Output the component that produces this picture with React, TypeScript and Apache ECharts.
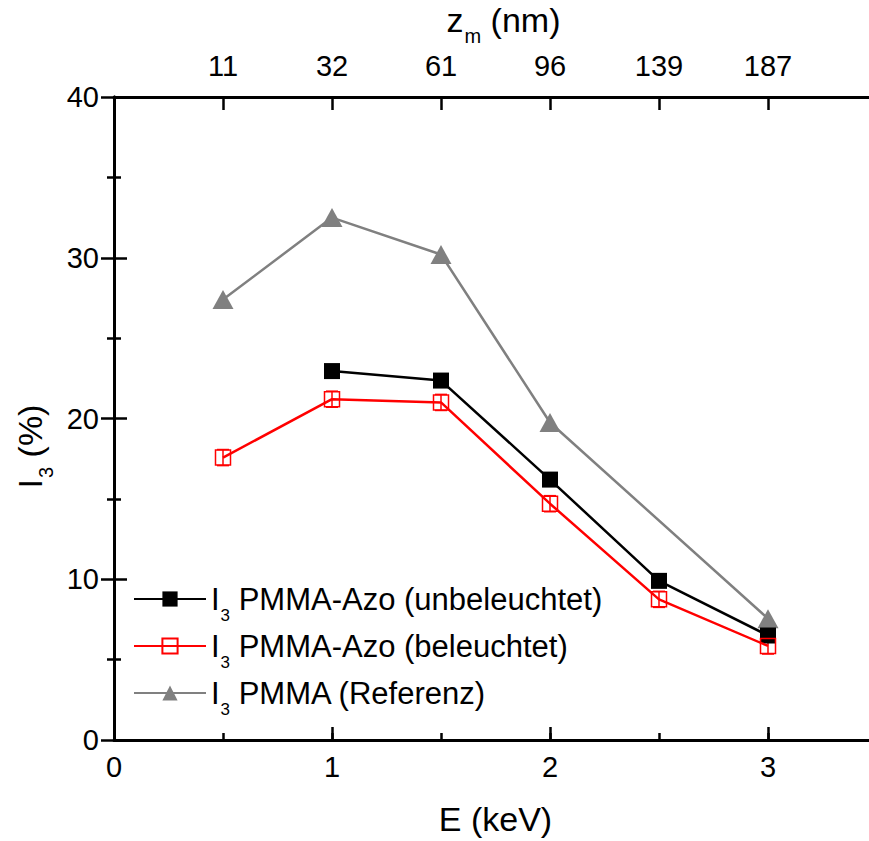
import React, { useEffect, useRef } from "react";
import * as echarts from "echarts";

const energy = [0.5, 1, 1.5, 2, 2.5, 3];
const depthLabels = ["11", "32", "61", "96", "139", "187"];
const azoDark: (number | null)[] = [null, 22.95, 22.36, 16.2, 9.9, 6.5];
const azoLit: (number | null)[] = [17.57, 21.2, 21.0, 14.7, 8.75, 5.85];
const pmmaRef: (number | null)[] = [27.4, 32.5, 30.2, 19.75, null, 7.55];
const azoLitErr = [0.5, 0.5, 0.5, 0.5, 0.5, 0.5];

const FONT = "Liberation Sans, Arial, sans-serif";

function pairs(vals: (number | null)[]) {
  const out: number[][] = [];
  vals.forEach((v, i) => {
    if (v !== null) out.push([energy[i], v]);
  });
  return out;
}

function errPairs(vals: (number | null)[], errs: number[]) {
  const out: number[][] = [];
  vals.forEach((v, i) => {
    if (v !== null && errs[i] > 0) out.push([energy[i], v, errs[i]]);
  });
  return out;
}

function errorSeries(data: number[][], color: string) {
  return {
    type: "custom",
    xAxisIndex: 0,
    yAxisIndex: 0,
    silent: true,
    z: 1,
    data,
    encode: { x: 0, y: 1 },
    renderItem: (params: any, api: any) => {
      const x = api.value(0);
      const y = api.value(1);
      const e = api.value(2);
      const hi = api.coord([x, y + e]);
      const lo = api.coord([x, y - e]);
      const cap = 6;
      const style = { stroke: color, lineWidth: 1.5 };
      return {
        type: "group",
        children: [
          { type: "line", shape: { x1: hi[0], y1: hi[1], x2: lo[0], y2: lo[1] }, style },
          { type: "line", shape: { x1: hi[0] - cap, y1: hi[1], x2: hi[0] + cap, y2: hi[1] }, style },
          { type: "line", shape: { x1: lo[0] - cap, y1: lo[1], x2: lo[0] + cap, y2: lo[1] }, style },
        ],
      };
    },
  };
}

const subLegend = {
  s: { fontSize: 17, lineHeight: 17, fontFamily: FONT, color: "#000", padding: [33, 0, 0, 1] },
};
const subTitle = {
  s: { fontSize: 20, lineHeight: 20, fontFamily: FONT, color: "#000", padding: [32, 0, 0, 1] },
};

export default function App() {
  const ref = useRef<HTMLDivElement>(null);
  useEffect(() => {
    if (!ref.current) return;
    const chart = echarts.init(ref.current, null, { renderer: "svg" });
    const axisLine = { show: true, lineStyle: { color: "#000", width: 3 } };
    const labelStyle = { color: "#000", fontSize: 29, fontFamily: FONT };
    const titleStyle = { color: "#000", fontSize: 34, fontFamily: FONT };
    const tickStyle = { color: "#000", width: 2.5 };
    const option: any = {
      animation: false,
      backgroundColor: "#fff",
      grid: {
        left: 114,
        top: 97,
        right: 3,
        bottom: 101,
        containLabel: false,
        outerBoundsMode: "none",
      },
      legend: {
        orient: "vertical",
        left: 128,
        top: 569,
        padding: 5,
        itemWidth: 72,
        itemHeight: 19,
        itemGap: -3,
        data: ["azoDark", "azoLit", "pmmaRef"],
        formatter: (name: string) => {
          if (name === "azoDark") return "I{s|3} PMMA-Azo (unbeleuchtet)";
          if (name === "azoLit") return "I{s|3} PMMA-Azo (beleuchtet)";
          return "I{s|3} PMMA (Referenz)";
        },
        textStyle: { color: "#000", fontSize: 31, fontFamily: FONT, lineHeight: 32, rich: subLegend },
      },
      xAxis: [
        {
          type: "value",
          position: "bottom",
          min: 0,
          max: 3.5,
          interval: 0.5,
          axisLine,
          axisTick: { show: true, inside: true, length: 7, lineStyle: tickStyle },
          splitLine: { show: false },
          axisLabel: {
            ...labelStyle,
            margin: 12,
            formatter: (v: number) => (v % 1 === 0 ? String(v) : ""),
          },
          name: "E (keV)",
          nameLocation: "middle",
          nameGap: 62,
          nameTextStyle: { ...titleStyle },
        },
        {
          type: "value",
          position: "bottom",
          min: 0,
          max: 3.5,
          interval: 1,
          axisLine: { show: false },
          axisTick: { show: true, inside: true, length: 13, lineStyle: tickStyle },
          splitLine: { show: false },
          axisLabel: { show: false },
        },
        {
          type: "value",
          position: "top",
          min: 0,
          max: 3.5,
          interval: 0.5,
          axisLine,
          axisTick: { show: true, inside: true, length: 13, lineStyle: tickStyle },
          splitLine: { show: false },
          axisLabel: {
            ...labelStyle,
            margin: 17,
            formatter: (v: number) => {
              const i = energy.findIndex((e) => Math.abs(e - v) < 1e-6);
              return i >= 0 ? depthLabels[i] : "";
            },
          },
          name: "z{s|m} (nm)",
          nameLocation: "middle",
          nameGap: 53,
          nameTextStyle: { ...titleStyle, padding: [0, 0, 0, 16], rich: subTitle },
        },
      ],
      yAxis: [
        {
          type: "value",
          position: "left",
          min: 0,
          max: 40,
          interval: 10,
          axisLine,
          axisTick: { show: true, inside: true, length: 13, lineStyle: tickStyle },
          minorTick: { show: true, splitNumber: 2, length: 7, lineStyle: tickStyle },
          splitLine: { show: false },
          axisLabel: { ...labelStyle, margin: 15 },
          name: "I{s|3} (%)",
          nameLocation: "middle",
          nameGap: 66,
          nameTextStyle: { ...titleStyle, padding: [0, 56, 0, 0], rich: subTitle },
        },
        {
          type: "value",
          position: "right",
          min: 0,
          max: 40,
          interval: 10,
          axisLine,
          axisTick: { show: true, inside: true, length: 13, lineStyle: tickStyle },
          minorTick: { show: true, splitNumber: 2, length: 7, lineStyle: tickStyle },
          splitLine: { show: false },
          axisLabel: { show: false },
        },
      ],
      series: [
        errorSeries(errPairs(azoLit, azoLitErr), "#ff0000"),
        {
          name: "pmmaRef",
          type: "line",
          xAxisIndex: 0,
          yAxisIndex: 0,
          data: pairs(pmmaRef),
          symbol: "triangle",
          symbolSize: [21, 19],
          lineStyle: { color: "#808080", width: 2.5 },
          itemStyle: { color: "#808080", borderWidth: 0 },
          z: 2,
        },
        {
          name: "azoDark",
          type: "line",
          xAxisIndex: 0,
          yAxisIndex: 0,
          data: pairs(azoDark),
          symbol: "rect",
          symbolSize: 16,
          lineStyle: { color: "#000", width: 2.5 },
          itemStyle: { color: "#000", borderWidth: 0 },
          z: 3,
        },
        {
          name: "azoLit",
          type: "line",
          xAxisIndex: 0,
          yAxisIndex: 0,
          data: pairs(azoLit),
          symbol: "rect",
          symbolSize: 15,
          lineStyle: { color: "#ff0000", width: 2.5 },
          itemStyle: { color: "rgba(255,255,255,0)", borderColor: "#ff0000", borderWidth: 1.5 },
          z: 4,
        },
      ],
    };
    chart.setOption(option);
    return () => chart.dispose();
  }, []);
  return (
    <div style={{ position: "absolute", left: 0, top: 0, width: 869, height: 841, overflow: "hidden" }}>
      <div ref={ref} style={{ width: 880, height: 841 }} />
    </div>
  );
}
